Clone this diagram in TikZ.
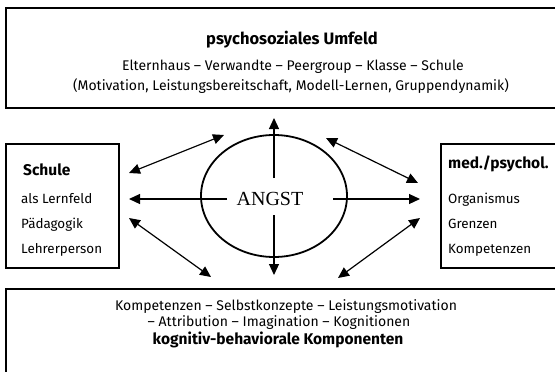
\documentclass[tikz,border=0pt]{standalone}
\usepackage{fontspec}
\setmainfont{Fira Sans}
\newfontfamily\angstfont{Liberation Serif}
\usetikzlibrary{arrows.meta}
\tikzset{
  kasten/.style={line width=1.3pt},
  txt/.style={font=\fontsize{14}{16}\selectfont, inner sep=0pt},
  seite/.style={font=\fontsize{13.4}{15}\selectfont, inner sep=0pt},
  titel/.style={font=\bfseries\fontsize{15.5}{18}\selectfont, inner sep=0pt},
  pfeil/.style={line width=1.2pt, -{Triangle[length=11pt,width=10pt]}},
  doppel/.style={line width=1.2pt, {Triangle[length=11pt,width=10pt]}-{Triangle[length=11pt,width=10pt]}}
}
\begin{document}
\begin{tikzpicture}[x=1pt,y=-1pt]
\useasboundingbox (0,0) rectangle (555,372);
\clip (0,0) rectangle (555,372);
% Kaesten
\draw[kasten] (6,8) rectangle (578,108);
\draw[kasten] (6,144) rectangle (119,268);
\draw[kasten] (441,144) rectangle (578,268);
\draw[kasten] (6,289) rectangle (578,390);
% Texte oben
\path
	(292,45) node [titel, font=\bfseries\fontsize{16.5}{18}\selectfont, anchor=base] (umfeld) {psychosoziales Umfeld}
	(293,70) node [txt, anchor=base] (umfeld1) {Elternhaus – Verwandte – Peergroup – Klasse – Schule}
	(291,90) node [txt, anchor=base] (umfeld2) {(Motivation, Leistungsbereitschaft, Modell-Lernen, Gruppendynamik)};
% Texte links
\path
	(23,175) node [titel, anchor=base west] (schule) {Schule}
	(21,203) node [seite, anchor=base west] (schule1) {als Lernfeld}
	(21,228) node [seite, anchor=base west] (schule2) {Pädagogik}
	(21,253) node [seite, anchor=base west] (schule3) {Lehrerperson};
% Texte rechts
\path
	(448,168) node [titel, anchor=base west] (med) {med./psychol.}
	(448,203) node [seite, anchor=base west] (med1) {Organismus}
	(448,228) node [seite, anchor=base west] (med2) {Grenzen}
	(448,253) node [seite, anchor=base west] (med3) {Kompetenzen};
% Texte unten
\path
	(286,310) node [txt, anchor=base] (komp1) {Kompetenzen – Selbstkonzepte – Leistungsmotivation}
	(279,326) node [txt, anchor=base] (komp2) {– Attribution – Imagination – Kognitionen}
	(278,344) node [titel, anchor=base] (komp) {kognitiv-behaviorale Komponenten};
% Angst
\draw[line width=1.8pt] (274,196) ellipse [x radius=73, y radius=61];
\node[font=\angstfont\fontsize{20}{22}\selectfont, inner sep=0pt, anchor=base] (angst) at (270,205) {ANGST};
% Pfeile
\coordinate (o1) at (274,178);
\coordinate (oben) at (274,118);
\coordinate (u1) at (274,215);
\coordinate (unten) at (274,275);
\coordinate (l1) at (227,199);
\coordinate (links) at (129,199);
\coordinate (r1) at (333,199);
\coordinate (rechts) at (420,199);
\coordinate (ol) at (129,173);
\coordinate (ol2) at (224,135);
\coordinate (ul) at (129,218);
\coordinate (ul2) at (211,277);
\coordinate (or) at (326,138);
\coordinate (or2) at (418,183);
\coordinate (ur) at (338,278);
\coordinate (ur2) at (420,218);
\draw[pfeil] (o1) -- (oben);
\draw[pfeil] (u1) -- (unten);
\draw[pfeil] (l1) -- (links);
\draw[pfeil] (r1) -- (rechts);
\draw[doppel] (ol) -- (ol2);
\draw[doppel] (ul) -- (ul2);
\draw[doppel] (or) -- (or2);
\draw[doppel] (ur) -- (ur2);
\end{tikzpicture}
\end{document}
